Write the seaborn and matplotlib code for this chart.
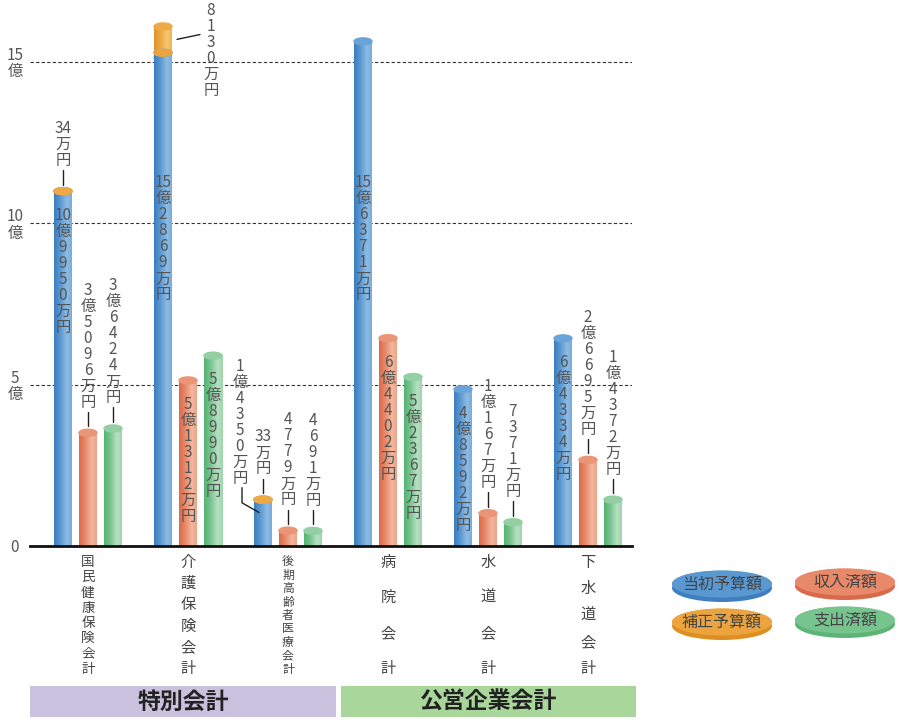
import numpy as np
import pandas as pd
import matplotlib
matplotlib.use("Agg")
import matplotlib.pyplot as plt
from matplotlib.colors import LinearSegmentedColormap
from matplotlib.patches import Ellipse, Rectangle
import seaborn as sns

# 会計別の予算・決算（単位：万円）
accounts = ["国民健康保険会計", "介護保険会計", "後期高齢者医療会計", "病院会計", "水道会計", "下水道会計"]
initial_budget = [109950, 152869, 14350, 156371, 48592, 64334]   # 当初予算額
supplementary = [34, 8130, 33, 0, 0, 0]                           # 補正予算額
revenue = [35096, 51312, 4779, 64402, 10167, 26695]               # 収入済額
expenditure = [36424, 58990, 4691, 52367, 7371, 14372]            # 支出済額
series = ["当初予算額", "収入済額", "支出済額"]
legend_items = ["当初予算額", "収入済額", "補正予算額", "支出済額"]
groups = ["特別会計", "公営企業会計"]
y_ticks = [0, 5, 10, 15]
y_tick_labels = ["0", "5\n億", "10\n億", "15\n億"]

sns.set_theme(style="white")
plt.rcParams["font.family"] = ["Noto Sans CJK JP", "DejaVu Sans"]

# 色（左の影 → 中間 → ハイライト → 右端）、上面、縁
shades = {
    "当初予算額": (["#3a7dbf", "#5a98d2", "#8dbbe4", "#79acdb"], "#6aa3d8", "#3f7fc0"),
    "収入済額": (["#dd6a47", "#e8896a", "#f2b9a0", "#eba489"], "#eb9577", "#d8694a"),
    "支出済額": (["#55b371", "#78c48f", "#b7e0c2", "#a0d5ae"], "#93cfa2", "#5cb575"),
    "補正予算額": (["#e3922a", "#eca53e", "#f6c870", "#f0b455"], "#eea845", "#df8f22"),
}
# ラベルの置き方（内側 / 上 / 左 / 右）
label_modes = {
    "当初予算額": ["in", "in", "left", "in", "in", "in"],
    "収入済額": ["up", "in", "up", "in", "up", "up"],
    "支出済額": ["up", "in", "up", "in", "up", "up"],
    "補正予算額": ["up", "right", "up", None, None, None],
}

PX = 32.27          # 1億あたりのピクセル
PITCH = 16          # 縦書きの1文字ピッチ(px)
YMAX = 16.6
TXT = "#555555"

fig = plt.figure(figsize=(9, 7.2), dpi=100)
ax = fig.add_axes([30 / 900, 1 - 546 / 720, 602 / 900, YMAX * PX / 720])

df = pd.DataFrame({
    "会計": accounts * 3,
    "区分": np.repeat(series, len(accounts)),
    "億": np.array(initial_budget + revenue + expenditure) / 10000,
})
sns.barplot(data=df, x="会計", y="億", hue="区分", hue_order=series,
            palette=[shades[s][0][1] for s in series], width=0.75, gap=0.28,
            linewidth=0, errorbar=None, legend=False, ax=ax)

grad = np.linspace(0, 1, 64).reshape(1, -1)


def make_cmap(key):
    cols = shades[key][0]
    return LinearSegmentedColormap.from_list(key, list(zip([0, 0.35, 0.72, 1], cols)))


def cylinder(p, key, bottom_cap=False):
    cols, cap, _ = shades[key]
    x0, y0, w, h = p.get_x(), p.get_y(), p.get_width(), p.get_height()
    ax.imshow(grad, cmap=make_cmap(key), extent=[x0, x0 + w, y0, y0 + h], aspect="auto",
              origin="lower", zorder=2, interpolation="bilinear")
    ch = 7 / PX
    if bottom_cap:
        ax.add_patch(Ellipse((x0 + w / 2, y0), w, ch, color=cols[1], zorder=3))
    ax.add_patch(Ellipse((x0 + w / 2, y0 + h), w, ch, color=cap, zorder=3))


def tate(v):
    oku, man = divmod(v, 10000)
    parts = []
    if oku:
        parts += [str(oku), "億"]
    if man:
        s = str(man)
        parts += list(s) if len(s) >= 3 else [s]
    return parts + ["万", "円"]


def stack(x, y, chars, anchor="top"):
    n = len(chars)
    for k, c in enumerate(chars):
        if anchor == "top":
            off = -PITCH / 2 - k * PITCH
        else:
            off = PITCH / 2 + (n - 1 - k) * PITCH
        ax.annotate(c, xy=(x, y), xytext=(0, off), textcoords="offset pixels",
                    ha="center", va="center", fontsize=11, color=TXT,
                    zorder=6, annotation_clip=False)


def leader(xs, ys):
    ax.plot(xs, ys, color="#222222", lw=1, zorder=5, clip_on=False)


def put_label(mode, cx, top, value):
    chars = tate(value)
    if mode == "in":
        stack(cx, min(top - 0.5, 11.5), chars, "top")
    elif mode == "up":
        leader([cx, cx], [top + 0.2, top + 0.65])
        stack(cx, top + 0.7, chars, "bottom")
    elif mode == "left":
        leader([cx - 0.21, cx - 0.21, cx - 0.04], [top + 0.37, top - 0.1, top - 0.4])
        stack(cx - 0.23, top + 0.4, chars, "bottom")
    elif mode == "right":
        leader([cx + 0.14, cx + 0.37], [top - 0.4, top - 0.25])
        stack(cx + 0.48, 16.85, chars, "top")


values = {"当初予算額": initial_budget, "収入済額": revenue, "支出済額": expenditure}
blue_pos = []
for key, cont in zip(series, ax.containers):
    for i, p in enumerate(cont.patches):
        cylinder(p, key)
        cx = p.get_x() + p.get_width() / 2
        top = values[key][i] / 10000
        if key == "当初予算額":
            blue_pos.append((cx, p.get_width()))
            top += supplementary[i] / 10000
        put_label(label_modes[key][i], cx, top, values[key][i])

# 補正予算額は当初予算額の上に積む
for i, (cx, w) in enumerate(blue_pos):
    if supplementary[i] <= 0:
        continue
    bars = ax.bar(cx, supplementary[i] / 10000, bottom=initial_budget[i] / 10000,
                  width=w, linewidth=0, color=shades["補正予算額"][0][1])
    cylinder(bars.patches[0], "補正予算額", bottom_cap=True)
    top = (initial_budget[i] + supplementary[i]) / 10000
    put_label(label_modes["補正予算額"][i], cx, top, supplementary[i])

ax.set_xlim(-0.58, 5.44)
ax.set_ylim(0, YMAX)
ax.set_xticks([])
ax.set_xlabel("")
ax.set_ylabel("")
ax.set_yticks(y_ticks, y_tick_labels)
for lbl in ax.get_yticklabels():
    lbl.set_ha("center")
    lbl.set_linespacing(0.95)
ax.tick_params(axis="y", length=0, pad=10.8, labelsize=11, labelcolor=TXT)
ax.yaxis.grid(True, linestyle=(0, (3, 2)), color="#333333", lw=0.8)
ax.set_axisbelow(True)
sns.despine(ax=ax, left=True)
ax.spines["bottom"].set_color("#111111")
ax.spines["bottom"].set_linewidth(2)
ax.spines["bottom"].set_zorder(7)

# 会計名（縦書き）
for i, name in enumerate(accounts):
    n = len(name)
    pitch = 107 / (n - 1)
    fs = min(11, pitch * 0.64)
    for k, c in enumerate(name):
        ax.annotate(c, xy=(i, 0), xycoords=("data", "axes fraction"),
                    xytext=(0, -16 - k * pitch), textcoords="offset pixels",
                    ha="center", va="center", fontsize=fs, color="#444444",
                    annotation_clip=False)

# 帯と凡例はピクセル座標の重ね用の軸に描く
ov = fig.add_axes([0, 0, 1, 1], zorder=-1)
ov.set_xlim(0, 900)
ov.set_ylim(720, 0)
ov.axis("off")
ov.patch.set_alpha(0)

bands = [(30, 336, "#c9c1de"), (341, 636, "#a9d69b")]
for (x0, x1, col), g in zip(bands, groups):
    ov.add_patch(Rectangle((x0, 686), x1 - x0, 31, color=col, lw=0))
    ov.text((x0 + x1) / 2, 702, g, ha="center", va="center",
            fontsize=16.5, fontweight="bold", color="#222222")

legend_pos = [(722, 584), (845, 582), (722, 622), (845, 620)]
for name, (px, py) in zip(legend_items, legend_pos):
    cols, cap, rim = shades[name]
    ov.add_patch(Ellipse((px, py + 4), 100, 28, color=rim, lw=0))
    face = Ellipse((px, py), 100, 27, color=cols[1], lw=0)
    ov.add_patch(face)
    im = ov.imshow(grad, cmap=make_cmap(name), extent=[px - 50, px + 50, py + 14, py - 14],
                   aspect="auto", interpolation="bilinear", alpha=0.85)
    im.set_clip_path(face)
    ov.text(px, py, name, ha="center", va="center", fontsize=11.5, color="#444444")

ov.set_xlim(0, 900)
ov.set_ylim(720, 0)

fig.savefig("out.png", dpi=100)
